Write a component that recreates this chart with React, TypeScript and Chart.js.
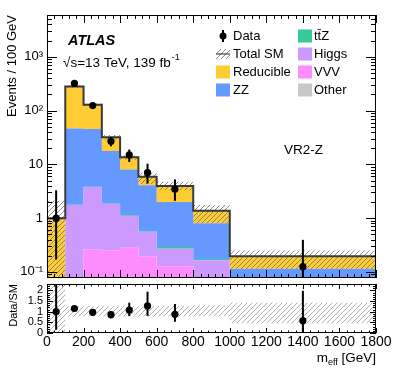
import React, { useEffect, useRef } from 'react';
import { Chart, registerables } from 'chart.js';

Chart.register(...registerables);

const FONT = "'Liberation Sans', Arial, Helvetica, sans-serif";

// ---------- data ----------
const binEdges = [0, 100, 200, 300, 400, 500, 600, 800, 1000, 1800];

// Backgrounds, events / 100 GeV, stacking order bottom -> top
const otherValues = [0, 0.01, 0.02, 0.02, 0.02, 0.01, 0.01, 0.005, 0.003];
const vvvValues = [0, 0.04, 0.245, 0.234, 0.26, 0.186, 0.118, 0.045, 0.017];
const higgsValues = [0, 1.7, 3.53, 1.57, 0.81, 0.36, 0.142, 0.115, 0.03];
const ttzValues = [0, 0.03, 0.05, 0.05, 0.04, 0.02, 0.02, 0.008, 0.005];
const zzValues = [0, 44.7, 41.6, 15.8, 6.9, 3.5, 1.71, 0.63, 0.06];
const reducibleValues = [1.0, 233.5, 83.5, 14.3, 5.5, 1.8, 1.94, 0.57, 0.081];

// Total SM uncertainty band
const bandHigh = [2.1, 295, 136, 35, 14.8, 7.0, 4.75, 1.75, 0.25];
const bandLow = [0, 265, 122, 29, 12.2, 4.3, 3.3, 0.8, 0.115];

// Data
const dataValues = [1.0, 320, 124, 27, 15, 7.0, 3.45, null, 0.125];
const dataErrUp = [2.3, 18, 11, 5.3, 3.9, 3.3, 1.8, null, 0.27];
const dataErrDown = [0.83, 18, 11, 5.3, 3.9, 2.6, 1.35, null, 0.12];

// Ratio panel
const ratioValues = [1.0, 1.15, 0.97, 0.86, 1.08, 1.27, 0.88, null, 0.58];
const ratioErrUp = [2.0, 0.07, 0.09, 0.17, 0.34, 0.67, 0.48, null, 1.4];
const ratioErrDown = [0.85, 0.07, 0.09, 0.17, 0.28, 0.47, 0.35, null, 0.58];
const ratioBandHigh = [2.5, 1.26, 1.26, 1.26, 1.26, 1.26, 1.27, 1.3, 1.42];
const ratioBandLow = [0, 0.78, 0.78, 0.78, 0.78, 0.78, 0.77, 0.79, 0.46];

// Axes
const xTickValues = [0, 200, 400, 600, 800, 1000, 1200, 1400, 1600, 1800];
const mainYTicks = [0.1, 1, 10, 100, 1000];
const mainYTickLabels = ['10\u207B\u00B9', '1', '10', '10\u00B2', '10\u00B3'];
const ratioYTicks = [0, 0.5, 1, 1.5, 2];
const ratioYTickLabels = ['0', '0.5', '1', '1.5', '2'];

// Legend
const legendCol1 = ['Data', 'Total SM', 'Reducible', 'ZZ'];
const legendCol2 = ['tt\u0304Z', 'Higgs', 'VVV', 'Other'];

const colors = {
  other: '#c8c8c8',
  vvv: '#ff8cff',
  higgs: '#cc99ff',
  ttz: '#33cc99',
  zz: '#6699ff',
  reducible: '#ffcc33',
};

// ---------- helpers ----------
function makeHatch(color: string) {
  const s = 5;
  const c = document.createElement('canvas');
  c.width = s;
  c.height = s;
  const g = c.getContext('2d')!;
  g.strokeStyle = color;
  g.lineWidth = 0.8;
  g.beginPath();
  g.moveTo(0, s);
  g.lineTo(s, 0);
  g.moveTo(-1, 1);
  g.lineTo(1, -1);
  g.moveTo(s - 1, s + 1);
  g.lineTo(s + 1, s - 1);
  g.stroke();
  return g.createPattern(c, 'repeat')!;
}

function stepPoints(vals: number[], floor: number) {
  // bin i value at its left edge; 'before' stepping runs horizontally across the bin first
  const pts = vals.map((v, i) => ({ x: binEdges[i], y: Math.max(v, floor) }));
  pts.push({ x: binEdges[binEdges.length - 1], y: Math.max(vals[vals.length - 1], floor) });
  return pts;
}

function centerPoints(vals: (number | null)[]) {
  return vals.map((v, i) => ({ x: (binEdges[i] + binEdges[i + 1]) / 2, y: v }));
}

const errorBarPlugin = {
  id: 'errorBars',
  beforeDatasetDraw(chart: any, args: any) {
    const ds: any = chart.data.datasets[args.index];
    if (!ds.errUp) return;
    const { ctx, chartArea: a } = chart;
    const xs = chart.scales.x;
    const ys = chart.scales.y;
    ctx.save();
    ctx.beginPath();
    ctx.rect(a.left, a.top, a.right - a.left, a.bottom - a.top);
    ctx.clip();
    ctx.strokeStyle = '#000';
    ctx.lineWidth = 2;
    ds.data.forEach((p: any, i: number) => {
      if (p.y == null) return;
      const px = xs.getPixelForValue(p.x);
      const lo = p.y - ds.errDown[i];
      const hi = p.y + ds.errUp[i];
      const yLo = lo > 0 || ys.type !== 'logarithmic' ? ys.getPixelForValue(lo) : a.bottom + 10;
      const yHi = ys.getPixelForValue(hi);
      ctx.beginPath();
      ctx.moveTo(px, yLo);
      ctx.lineTo(px, yHi);
      ctx.stroke();
    });
    ctx.restore();
  },
};

const framePlugin = {
  id: 'atlasFrame',
  afterDraw(chart: any, _args: any, opts: any) {
    const { ctx, chartArea: a } = chart;
    const xs = chart.scales.x;
    const ys = chart.scales.y;
    ctx.save();
    ctx.strokeStyle = '#000';
    ctx.lineWidth = 1;
    const seg = (x1: number, y1: number, x2: number, y2: number) => {
      ctx.beginPath();
      ctx.moveTo(x1, y1);
      ctx.lineTo(x2, y2);
      ctx.stroke();
    };
    const nx = Math.round((xs.max - xs.min) / opts.xMinor);
    for (let i = 0; i <= nx; i++) {
      const v = xs.min + i * opts.xMinor;
      const major = Math.abs(v / opts.xMajor - Math.round(v / opts.xMajor)) < 1e-6;
      const len = major ? opts.xMajorLen : opts.xMinorLen;
      const px = Math.round(xs.getPixelForValue(v)) + 0.5;
      seg(px, a.bottom, px, a.bottom - len);
      seg(px, a.top, px, a.top + len);
    }
    const yTick = (v: number, major: boolean) => {
      const len = major ? opts.yMajorLen : opts.yMinorLen;
      const py = Math.round(ys.getPixelForValue(v)) + 0.5;
      seg(a.left, py, a.left + len, py);
      seg(a.right, py, a.right - len, py);
    };
    if (opts.log) {
      for (let d = -3; d <= 5; d++) {
        for (let k = 1; k <= 9; k++) {
          const v = k * Math.pow(10, d);
          if (v < ys.min || v > ys.max) continue;
          yTick(v, k === 1);
        }
      }
    } else {
      const ny = Math.round((ys.max - ys.min) / opts.yMinor);
      for (let i = 0; i <= ny; i++) {
        const v = ys.min + i * opts.yMinor;
        const major = Math.abs(v / opts.yMajor - Math.round(v / opts.yMajor)) < 1e-6;
        yTick(v, major);
      }
    }
    ctx.strokeRect(a.left + 0.5, a.top + 0.5, a.right - a.left - 1, a.bottom - a.top - 1);
    ctx.restore();
  },
};

function makeTextPlugin(hatch: CanvasPattern) {
  return {
    id: 'atlasText',
    afterDraw(chart: any) {
      const { ctx, chartArea: a } = chart;
      ctx.save();
      ctx.fillStyle = '#000';
      ctx.textBaseline = 'middle';
      ctx.textAlign = 'left';
      ctx.font = `italic bold 14.5px ${FONT}`;
      ctx.fillText('ATLAS', a.left + 21, a.top + 26);
      ctx.font = `13.5px ${FONT}`;
      const s = '\u221As=13 TeV, 139 fb';
      ctx.fillText(s, a.left + 16, a.top + 48);
      const w = ctx.measureText(s).width;
      ctx.font = `9px ${FONT}`;
      ctx.fillText('-1', a.left + 16 + w + 1, a.top + 43);
      ctx.font = `13.5px ${FONT}`;
      ctx.fillText('VR2-Z', a.left + 237, a.top + 135);

      // legend
      const rows = [21, 39, 57, 75].map((r) => a.top + r);
      const c1 = a.left + 169;
      const c2 = a.left + 251;
      const col2Colors = [colors.ttz, colors.higgs, colors.vvv, colors.other];
      ctx.font = `13px ${FONT}`;
      // Data
      ctx.strokeStyle = '#000';
      ctx.lineWidth = 2;
      ctx.beginPath();
      ctx.moveTo(c1 + 7, rows[0] - 6);
      ctx.lineTo(c1 + 7, rows[0] + 6);
      ctx.stroke();
      ctx.beginPath();
      ctx.arc(c1 + 7, rows[0], 3.5, 0, Math.PI * 2);
      ctx.fill();
      // Total SM
      ctx.fillStyle = hatch;
      ctx.fillRect(c1, rows[1] - 5, 14, 10);
      ctx.strokeStyle = '#444';
      ctx.lineWidth = 1.2;
      ctx.beginPath();
      ctx.moveTo(c1, rows[1]);
      ctx.lineTo(c1 + 14, rows[1]);
      ctx.stroke();
      // Reducible, ZZ
      ctx.fillStyle = colors.reducible;
      ctx.fillRect(c1, rows[2] - 6.5, 14, 13);
      ctx.fillStyle = colors.zz;
      ctx.fillRect(c1, rows[3] - 6.5, 14, 13);
      col2Colors.forEach((c, i) => {
        ctx.fillStyle = c;
        ctx.fillRect(c2, rows[i] - 6.5, 14, 13);
      });
      ctx.fillStyle = '#000';
      legendCol1.forEach((t, i) => ctx.fillText(t, c1 + 17, rows[i]));
      legendCol2.forEach((t, i) => ctx.fillText(t, c2 + 16, rows[i]));
      ctx.restore();
    },
  };
}

const xTitlePlugin = {
  id: 'xTitle',
  afterDraw(chart: any) {
    const { ctx, chartArea: a } = chart;
    ctx.save();
    ctx.fillStyle = '#000';
    ctx.textBaseline = 'alphabetic';
    ctx.textAlign = 'left';
    const big = `13.5px ${FONT}`;
    const small = `9px ${FONT}`;
    ctx.font = big;
    const wm = ctx.measureText('m').width;
    const wr = ctx.measureText(' [GeV]').width;
    ctx.font = small;
    const ws = ctx.measureText('eff').width;
    const x0 = a.right - (wm + ws + wr);
    const base = a.bottom + 29;
    ctx.font = big;
    ctx.fillText('m', x0, base);
    ctx.font = small;
    ctx.fillText('eff', x0 + wm, base + 3);
    ctx.font = big;
    ctx.fillText(' [GeV]', x0 + wm + ws, base);
    ctx.restore();
  },
};

// ---------- App ----------
export default function App() {
  const topRef = useRef<HTMLCanvasElement>(null);
  const botRef = useRef<HTMLCanvasElement>(null);

  useEffect(() => {
    const hatch = makeHatch('#6e6e6e');
    const ratioHatch = makeHatch('#9a9a9a');
    const floor = 1e-4;

    const components = [otherValues, vvvValues, higgsValues, ttzValues, zzValues, reducibleValues];
    const compColors = [colors.other, colors.vvv, colors.higgs, colors.ttz, colors.zz, colors.reducible];
    let run = reducibleValues.map(() => 0);
    const cums = components.map((c) => {
      run = run.map((r, i) => r + c[i]);
      return run.slice();
    });
    const total = cums[cums.length - 1];

    const stackSets = cums.map((cum, i) => ({
      data: stepPoints(cum, floor),
      stepped: 'before' as const,
      borderColor: 'rgba(0,0,0,0)',
      borderWidth: 0,
      backgroundColor: compColors[i],
      fill: i === 0 ? 'start' : i - 1,
      pointRadius: 0,
      order: 10,
    }));

    const nStack = stackSets.length;
    const topDatasets: any[] = [
      ...stackSets,
      {
        data: stepPoints(bandLow, floor),
        stepped: 'before',
        borderColor: 'rgba(0,0,0,0)',
        borderWidth: 0,
        fill: false,
        pointRadius: 0,
        order: 5,
      },
      {
        data: stepPoints(bandHigh, floor),
        stepped: 'before',
        borderColor: 'rgba(0,0,0,0)',
        borderWidth: 0,
        backgroundColor: hatch,
        fill: nStack,
        pointRadius: 0,
        order: 5,
      },
      {
        data: stepPoints(total, floor),
        stepped: 'before',
        borderColor: '#3a3a3a',
        borderWidth: 2,
        fill: false,
        pointRadius: 0,
        order: 2,
      },
      {
        data: centerPoints(dataValues),
        showLine: false,
        pointRadius: 3.6,
        pointBackgroundColor: '#000',
        pointBorderColor: '#000',
        pointBorderWidth: 0,
        errUp: dataErrUp,
        errDown: dataErrDown,
        order: 1,
      },
    ];

    const top = new Chart(topRef.current!, {
      type: 'line',
      data: { datasets: topDatasets },
      plugins: [errorBarPlugin, framePlugin, makeTextPlugin(hatch)],
      options: {
        responsive: false,
        animation: false,
        devicePixelRatio: 1,
        events: [],
        layout: { padding: { left: 0, right: 19, top: 15, bottom: 101 } },
        plugins: {
          legend: { display: false },
          tooltip: { enabled: false },
          atlasFrame: { xMajor: 200, xMinor: 40, xMajorLen: 8, xMinorLen: 4, log: true, yMajorLen: 10, yMinorLen: 5 },
        } as any,
        scales: {
          x: { type: 'linear', min: 0, max: 1800, display: false },
          y: {
            type: 'logarithmic',
            min: 0.077,
            max: 6000,
            afterFit: (s: any) => {
              s.width = 47;
            },
            afterBuildTicks: (s: any) => {
              s.ticks = mainYTicks.map((v) => ({ value: v }));
            },
            grid: { display: false, drawTicks: false },
            border: { display: false },
            ticks: {
              autoSkip: false,
              padding: 4,
              color: '#000',
              font: { family: FONT, size: 13 },
              callback: (v: any) => {
                const i = mainYTicks.findIndex((t) => Math.abs(t - v) / t < 1e-6);
                return i >= 0 ? mainYTickLabels[i] : '';
              },
            },
            title: {
              display: true,
              text: 'Events / 100 GeV',
              align: 'end',
              color: '#000',
              font: { family: FONT, size: 13 },
              padding: { top: 5, bottom: 0 },
            },
          },
        },
      } as any,
    });

    const botDatasets: any[] = [
      {
        data: stepPoints(ratioBandLow, -1),
        stepped: 'before',
        borderColor: 'rgba(0,0,0,0)',
        borderWidth: 0,
        fill: false,
        pointRadius: 0,
        order: 5,
      },
      {
        data: stepPoints(ratioBandHigh, -1),
        stepped: 'before',
        borderColor: 'rgba(0,0,0,0)',
        borderWidth: 0,
        backgroundColor: ratioHatch,
        fill: 0,
        pointRadius: 0,
        order: 5,
      },
      {
        data: centerPoints(ratioValues),
        showLine: false,
        pointRadius: 3.6,
        pointBackgroundColor: '#000',
        pointBorderColor: '#000',
        pointBorderWidth: 0,
        errUp: ratioErrUp,
        errDown: ratioErrDown,
        order: 1,
      },
    ];

    const bot = new Chart(botRef.current!, {
      type: 'line',
      data: { datasets: botDatasets },
      plugins: [errorBarPlugin, framePlugin, xTitlePlugin],
      options: {
        responsive: false,
        animation: false,
        devicePixelRatio: 1,
        events: [],
        layout: { padding: { left: 0, right: 19, top: 284, bottom: 26 } },
        plugins: {
          legend: { display: false },
          tooltip: { enabled: false },
          atlasFrame: { xMajor: 200, xMinor: 40, xMajorLen: 5, xMinorLen: 2.5, log: false, yMajor: 0.5, yMinor: 0.1, yMajorLen: 6, yMinorLen: 3 },
        } as any,
        scales: {
          x: {
            type: 'linear',
            min: 0,
            max: 1800,
            afterFit: (s: any) => {
              s.height = 20;
            },
            afterBuildTicks: (s: any) => {
              s.ticks = xTickValues.map((v) => ({ value: v }));
            },
            grid: { display: false, drawTicks: false },
            border: { display: false },
            ticks: {
              autoSkip: false,
              maxRotation: 0,
              padding: 1,
              color: '#000',
              font: { family: FONT, size: 14 },
              callback: (v: any) => String(v),
            },
          },
          y: {
            type: 'linear',
            min: 0,
            max: 2.3,
            afterFit: (s: any) => {
              s.width = 47;
            },
            afterBuildTicks: (s: any) => {
              s.ticks = ratioYTicks.map((v) => ({ value: v }));
            },
            grid: { display: false, drawTicks: false },
            border: { display: false },
            ticks: {
              autoSkip: false,
              padding: 4,
              color: '#000',
              font: { family: FONT, size: 11 },
              callback: (v: any) => {
                const i = ratioYTicks.findIndex((t) => Math.abs(t - v) < 1e-6);
                return i >= 0 ? ratioYTickLabels[i] : '';
              },
            },
            title: {
              display: true,
              text: 'Data/SM',
              align: 'end',
              color: '#000',
              font: { family: FONT, size: 11 },
              padding: { top: 7, bottom: 0 },
            },
          },
        },
      } as any,
    });

    return () => {
      top.destroy();
      bot.destroy();
    };
  }, []);

  return (
    <div style={{ position: 'absolute', left: 0, top: 0, width: 395, height: 379, background: '#fff' }}>
      <canvas ref={topRef} width={395} height={379} style={{ position: 'absolute', left: 0, top: 0 }} />
      <canvas ref={botRef} width={395} height={379} style={{ position: 'absolute', left: 0, top: 0 }} />
    </div>
  );
}
